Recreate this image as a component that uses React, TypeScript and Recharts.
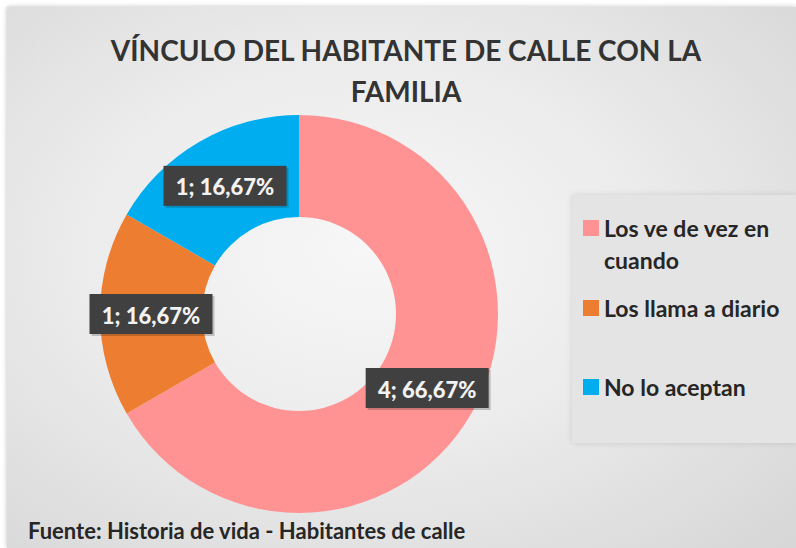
import * as React from "react"
import { PieChart, Pie, Cell, Legend } from "recharts"

const categories = ["Los ve de vez en cuando", "Los llama a diario", "No lo aceptan"]
const counts = [4, 1, 1]
const percents = ["66,67%", "16,67%", "16,67%"]
const colors = ["#FF9393", "#ED7D31", "#00AEEF"]

const data = categories.map((name, i) => ({ name, value: counts[i], pct: percents[i] }))

const FONT = "Lato, 'Open Sans', sans-serif"
const RADIAN = Math.PI / 180

function renderLabel(props: any) {
  const { cx, cy, midAngle, innerRadius, outerRadius, index } = props
  const r = (innerRadius + outerRadius) / 2
  const x = cx + r * Math.cos(-midAngle * RADIAN)
  const y = cy + r * Math.sin(-midAngle * RADIAN)
  const text = `${counts[index]}; ${percents[index]}`
  const w = 123
  const h = 40
  return (
    <g>
      <rect x={x - w / 2 + 2} y={y - h / 2 + 2} width={w} height={h} fill="rgba(0,0,0,0.2)" />
      <rect x={x - w / 2} y={y - h / 2} width={w} height={h} fill="#404040" />
      <text
        x={x}
        y={y + 1}
        fill="#f2f2f2"
        textAnchor="middle"
        dominantBaseline="central"
        fontFamily={FONT}
        fontWeight={900}
        fontSize={22}
      >
        {text}
      </text>
    </g>
  )
}

function LegendBox(props: any) {
  const payload = [...(props.payload || [])].sort(
    (a: any, b: any) => categories.indexOf(a.value) - categories.indexOf(b.value)
  )
  const tops = [212, 292, 371]
  return (
    <div
      style={{
        position: "relative",
        width: 224,
        height: 248,
        background: "#e4e4e4",
        boxShadow: "0 0 6px rgba(0,0,0,0.12)",
      }}
    >
      {payload.map((entry: any, i: number) => (
        <div
          key={entry.value}
          style={{
            position: "absolute",
            left: 11,
            top: tops[i] - 195,
            display: "flex",
            alignItems: "flex-start",
          }}
        >
          <div style={{ width: 16, height: 16, background: entry.color, marginTop: 8, marginRight: 5 }} />
          <div
            style={{
              width: i === 0 ? 190 : 200,
              fontFamily: FONT,
              fontWeight: 700,
              fontSize: 23,
              lineHeight: "32px",
              color: "#262626",
              whiteSpace: i === 0 ? "normal" : "nowrap",
            }}
          >
            {entry.value}
          </div>
        </div>
      ))}
    </div>
  )
}

export default function App() {
  return (
    <div
      style={{
        position: "absolute",
        left: 0,
        top: 0,
        width: 796,
        height: 548,
        background: "#ffffff",
        overflow: "hidden",
      }}
    >
      <div
        style={{
          position: "absolute",
          left: 7,
          top: 7,
          width: 789,
          height: 541,
          background: "radial-gradient(ellipse at 45% 45%, #f7f7f7 0%, #ececec 45%, #d6d6d6 100%)",
          boxShadow: "0 0 5px rgba(0,0,0,0.25)",
        }}
      />
      <div
        style={{
          position: "absolute",
          left: 0,
          top: 30,
          width: 812,
          textAlign: "center",
          fontFamily: FONT,
          fontWeight: 700,
          fontSize: 28,
          lineHeight: "41px",
          color: "#333333",
        }}
      >
        VÍNCULO DEL HABITANTE DE CALLE CON LA
        <br />
        FAMILIA
      </div>
      <div style={{ position: "absolute", left: 0, top: 0 }}>
        <PieChart width={796} height={548}>
          <Pie
            data={data}
            dataKey="value"
            nameKey="name"
            cx={294}
            cy={309}
            innerRadius={97}
            outerRadius={199}
            startAngle={90}
            endAngle={-270}
            stroke="none"
            label={renderLabel}
            labelLine={false}
            isAnimationActive={false}
          >
            {data.map((d, i) => (
              <Cell key={d.name} fill={colors[i]} />
            ))}
          </Pie>
          <Legend
            layout="vertical"
            align="right"
            verticalAlign="top"
            content={<LegendBox />}
            wrapperStyle={{ position: "absolute", left: 572, top: 195, width: 224, height: 248 }}
          />
        </PieChart>
      </div>
      <div
        style={{
          position: "absolute",
          left: 28,
          top: 517,
          fontFamily: FONT,
          fontWeight: 700,
          fontSize: 22,
          color: "#262626",
          whiteSpace: "nowrap",
        }}
      >
        Fuente: Historia de vida - Habitantes de calle
      </div>
    </div>
  )
}
